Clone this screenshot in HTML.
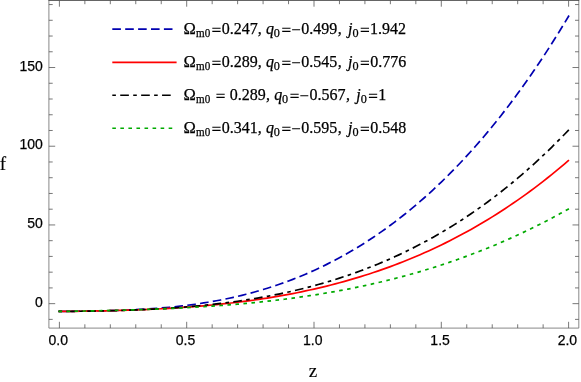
<!DOCTYPE html>
<html><head><meta charset="utf-8"><title>plot</title>
<style>
html,body{margin:0;padding:0;background:#fff;}
body{width:581px;height:382px;position:relative;overflow:hidden;font-family:"Liberation Sans",sans-serif;}
.t{position:absolute;font:14px/16px "Liberation Sans",sans-serif;color:#000;white-space:nowrap;height:16px;-webkit-text-stroke:0.25px #000;}
.ln,.ls,.li{position:absolute;font:16px/20px "Liberation Serif",serif;color:#000;white-space:pre;height:20px;-webkit-text-stroke:0.25px #000;}
.li{font-style:italic;}
.ls{font-size:12.2px;transform:scaleX(0.91);transform-origin:0 0;}
.ax{position:absolute;font-family:"Liberation Serif",serif;color:#000;white-space:nowrap;-webkit-text-stroke:0.15px #000;}
</style></head><body>
<svg width="581" height="382" viewBox="0 0 581 382" style="position:absolute;left:0;top:0">
<path d="M58.50,311.45 L59.40,311.45 L63.64,311.40 L67.89,311.35 L72.13,311.30 L76.37,311.25 L80.62,311.20 L84.86,311.14 L89.10,311.08 L93.35,311.01 L97.59,310.93 L101.83,310.84 L106.08,310.75 L110.32,310.64 L114.56,310.52 L118.81,310.38 L123.05,310.23 L127.29,310.07 L131.54,309.88 L135.78,309.68 L140.02,309.45 L144.27,309.21 L148.51,308.94 L152.75,308.65 L157.00,308.33 L161.24,307.99 L165.48,307.63 L169.73,307.23 L173.97,306.81 L178.21,306.35 L182.46,305.87 L186.70,305.35 L190.94,304.80 L195.19,304.22 L199.43,303.60 L203.67,302.95 L207.92,302.26 L212.16,301.53 L216.40,300.77 L220.65,299.96 L224.89,299.12 L229.13,298.23 L233.38,297.30 L237.62,296.33 L241.86,295.31 L246.11,294.25 L250.35,293.14 L254.59,291.98 L258.84,290.78 L263.08,289.53 L267.32,288.23 L271.57,286.88 L275.81,285.48 L280.05,284.03 L284.30,282.52 L288.54,280.96 L292.78,279.35 L297.03,277.68 L301.27,275.95 L305.51,274.17 L309.76,272.33 L314.00,270.43 L318.24,268.47 L322.49,266.45 L326.73,264.38 L330.97,262.23 L335.22,260.03 L339.46,257.76 L343.70,255.43 L347.95,253.03 L352.19,250.57 L356.43,248.04 L360.68,245.44 L364.92,242.77 L369.16,240.03 L373.41,237.23 L377.65,234.35 L381.89,231.40 L386.14,228.38 L390.38,225.28 L394.62,222.11 L398.87,218.86 L403.11,215.54 L407.35,212.14 L411.60,208.66 L415.84,205.10 L420.08,201.47 L424.33,197.75 L428.57,193.95 L432.81,190.07 L437.06,186.10 L441.30,182.05 L445.54,177.92 L449.79,173.69 L454.03,169.38 L458.27,164.99 L462.52,160.50 L466.76,155.92 L471.00,151.25 L475.25,146.49 L479.49,141.64 L483.73,136.69 L487.98,131.64 L492.22,126.50 L496.46,121.27 L500.71,115.93 L504.95,110.49 L509.19,104.95 L513.44,99.32 L517.68,93.57 L521.92,87.73 L526.17,81.77 L530.41,75.72 L534.65,69.55 L538.90,63.27 L543.14,56.89 L547.38,50.39 L551.63,43.78 L555.87,37.06 L560.11,30.22 L564.36,23.26 L568.60,16.19 L569.00,15.52" fill="none" stroke="#0000b0" stroke-width="1.7" stroke-dasharray="8.6 4.3"/>
<path d="M58.50,311.45 L59.40,311.45 L63.64,311.42 L67.89,311.38 L72.13,311.33 L76.37,311.29 L80.62,311.23 L84.86,311.18 L89.10,311.11 L93.35,311.04 L97.59,310.96 L101.83,310.88 L106.08,310.79 L110.32,310.69 L114.56,310.58 L118.81,310.47 L123.05,310.34 L127.29,310.21 L131.54,310.07 L135.78,309.91 L140.02,309.75 L144.27,309.58 L148.51,309.39 L152.75,309.20 L157.00,308.99 L161.24,308.77 L165.48,308.53 L169.73,308.29 L173.97,308.03 L178.21,307.75 L182.46,307.47 L186.70,307.16 L190.94,306.84 L195.19,306.51 L199.43,306.16 L203.67,305.80 L207.92,305.41 L212.16,305.01 L216.40,304.60 L220.65,304.16 L224.89,303.71 L229.13,303.23 L233.38,302.74 L237.62,302.23 L241.86,301.69 L246.11,301.14 L250.35,300.57 L254.59,299.97 L258.84,299.35 L263.08,298.71 L267.32,298.05 L271.57,297.36 L275.81,296.65 L280.05,295.91 L284.30,295.15 L288.54,294.36 L292.78,293.55 L297.03,292.71 L301.27,291.85 L305.51,290.95 L309.76,290.03 L314.00,289.09 L318.24,288.11 L322.49,287.10 L326.73,286.06 L330.97,285.00 L335.22,283.90 L339.46,282.77 L343.70,281.61 L347.95,280.42 L352.19,279.19 L356.43,277.93 L360.68,276.64 L364.92,275.31 L369.16,273.95 L373.41,272.56 L377.65,271.12 L381.89,269.65 L386.14,268.15 L390.38,266.60 L394.62,265.02 L398.87,263.40 L403.11,261.74 L407.35,260.04 L411.60,258.30 L415.84,256.52 L420.08,254.70 L424.33,252.84 L428.57,250.93 L432.81,248.98 L437.06,246.99 L441.30,244.95 L445.54,242.87 L449.79,240.75 L454.03,238.58 L458.27,236.36 L462.52,234.09 L466.76,231.78 L471.00,229.42 L475.25,227.01 L479.49,224.55 L483.73,222.04 L487.98,219.48 L492.22,216.87 L496.46,214.21 L500.71,211.50 L504.95,208.73 L509.19,205.91 L513.44,203.04 L517.68,200.11 L521.92,197.12 L526.17,194.08 L530.41,190.99 L534.65,187.83 L538.90,184.62 L543.14,181.35 L547.38,178.02 L551.63,174.63 L555.87,171.19 L560.11,167.68 L564.36,164.10 L568.60,160.47 L569.00,160.13" fill="none" stroke="#ff0000" stroke-width="1.7"/>
<path d="M58.50,311.45 L59.40,311.45 L63.64,311.42 L67.89,311.39 L72.13,311.35 L76.37,311.30 L80.62,311.25 L84.86,311.20 L89.10,311.14 L93.35,311.07 L97.59,310.99 L101.83,310.91 L106.08,310.82 L110.32,310.72 L114.56,310.61 L118.81,310.49 L123.05,310.36 L127.29,310.23 L131.54,310.08 L135.78,309.91 L140.02,309.74 L144.27,309.55 L148.51,309.35 L152.75,309.14 L157.00,308.91 L161.24,308.67 L165.48,308.41 L169.73,308.14 L173.97,307.85 L178.21,307.55 L182.46,307.22 L186.70,306.88 L190.94,306.52 L195.19,306.14 L199.43,305.75 L203.67,305.33 L207.92,304.89 L212.16,304.44 L216.40,303.96 L220.65,303.45 L224.89,302.93 L229.13,302.38 L233.38,301.81 L237.62,301.22 L241.86,300.59 L246.11,299.95 L250.35,299.28 L254.59,298.58 L258.84,297.85 L263.08,297.10 L267.32,296.32 L271.57,295.51 L275.81,294.67 L280.05,293.80 L284.30,292.90 L288.54,291.97 L292.78,291.01 L297.03,290.02 L301.27,288.99 L305.51,287.93 L309.76,286.83 L314.00,285.70 L318.24,284.54 L322.49,283.34 L326.73,282.10 L330.97,280.82 L335.22,279.51 L339.46,278.16 L343.70,276.77 L347.95,275.34 L352.19,273.87 L356.43,272.36 L360.68,270.81 L364.92,269.21 L369.16,267.58 L373.41,265.90 L377.65,264.17 L381.89,262.40 L386.14,260.59 L390.38,258.73 L394.62,256.82 L398.87,254.87 L403.11,252.86 L407.35,250.81 L411.60,248.71 L415.84,246.56 L420.08,244.36 L424.33,242.11 L428.57,239.80 L432.81,237.45 L437.06,235.04 L441.30,232.57 L445.54,230.05 L449.79,227.48 L454.03,224.85 L458.27,222.16 L462.52,219.42 L466.76,216.62 L471.00,213.76 L475.25,210.83 L479.49,207.85 L483.73,204.81 L487.98,201.71 L492.22,198.54 L496.46,195.31 L500.71,192.02 L504.95,188.66 L509.19,185.24 L513.44,181.75 L517.68,178.20 L521.92,174.58 L526.17,170.88 L530.41,167.13 L534.65,163.30 L538.90,159.40 L543.14,155.43 L547.38,151.38 L551.63,147.27 L555.87,143.08 L560.11,138.82 L564.36,134.48 L568.60,130.07 L569.00,129.65" fill="none" stroke="#000000" stroke-width="1.7" stroke-dasharray="3.6 4.33 8.65 4.33"/>
<path d="M58.50,311.45 L59.40,311.45 L63.64,311.38 L67.89,311.31 L72.13,311.23 L76.37,311.16 L80.62,311.08 L84.86,311.00 L89.10,310.92 L93.35,310.84 L97.59,310.75 L101.83,310.66 L106.08,310.56 L110.32,310.47 L114.56,310.36 L118.81,310.26 L123.05,310.14 L127.29,310.03 L131.54,309.90 L135.78,309.78 L140.02,309.64 L144.27,309.50 L148.51,309.35 L152.75,309.20 L157.00,309.04 L161.24,308.87 L165.48,308.69 L169.73,308.50 L173.97,308.31 L178.21,308.11 L182.46,307.89 L186.70,307.67 L190.94,307.44 L195.19,307.20 L199.43,306.94 L203.67,306.68 L207.92,306.41 L212.16,306.12 L216.40,305.82 L220.65,305.51 L224.89,305.19 L229.13,304.86 L233.38,304.51 L237.62,304.15 L241.86,303.78 L246.11,303.39 L250.35,302.98 L254.59,302.57 L258.84,302.14 L263.08,301.69 L267.32,301.23 L271.57,300.75 L275.81,300.25 L280.05,299.74 L284.30,299.22 L288.54,298.67 L292.78,298.11 L297.03,297.53 L301.27,296.93 L305.51,296.31 L309.76,295.68 L314.00,295.03 L318.24,294.35 L322.49,293.66 L326.73,292.95 L330.97,292.22 L335.22,291.46 L339.46,290.69 L343.70,289.89 L347.95,289.08 L352.19,288.24 L356.43,287.38 L360.68,286.49 L364.92,285.59 L369.16,284.66 L373.41,283.70 L377.65,282.73 L381.89,281.73 L386.14,280.70 L390.38,279.65 L394.62,278.58 L398.87,277.48 L403.11,276.35 L407.35,275.20 L411.60,274.02 L415.84,272.81 L420.08,271.58 L424.33,270.32 L428.57,269.03 L432.81,267.72 L437.06,266.37 L441.30,265.00 L445.54,263.60 L449.79,262.17 L454.03,260.71 L458.27,259.22 L462.52,257.70 L466.76,256.15 L471.00,254.57 L475.25,252.95 L479.49,251.31 L483.73,249.63 L487.98,247.92 L492.22,246.18 L496.46,244.41 L500.71,242.60 L504.95,240.76 L509.19,238.88 L513.44,236.97 L517.68,235.03 L521.92,233.05 L526.17,231.04 L530.41,228.99 L534.65,226.90 L538.90,224.78 L543.14,222.62 L547.38,220.43 L551.63,218.20 L555.87,215.93 L560.11,213.62 L564.36,211.27 L568.60,208.89 L569.00,208.66" fill="none" stroke="#00aa00" stroke-width="1.7" stroke-dasharray="3.6 4.45"/>
<path d="M48.9,0V328.1H578.8V0" fill="none" stroke="#6a6a6a" stroke-width="0.8"/>
<path d="M48.5,0.45H579.1999999999999" fill="none" stroke="#484848" stroke-width="0.9"/>
<path d="M59.40,328.1v-6.3 M59.40,0.4v6.3 M84.86,328.1v-3.8 M84.86,0.4v3.8 M110.32,328.1v-3.8 M110.32,0.4v3.8 M135.78,328.1v-3.8 M135.78,0.4v3.8 M161.24,328.1v-3.8 M161.24,0.4v3.8 M186.70,328.1v-6.3 M186.70,0.4v6.3 M212.16,328.1v-3.8 M212.16,0.4v3.8 M237.62,328.1v-3.8 M237.62,0.4v3.8 M263.08,328.1v-3.8 M263.08,0.4v3.8 M288.54,328.1v-3.8 M288.54,0.4v3.8 M314.00,328.1v-6.3 M314.00,0.4v6.3 M339.46,328.1v-3.8 M339.46,0.4v3.8 M364.92,328.1v-3.8 M364.92,0.4v3.8 M390.38,328.1v-3.8 M390.38,0.4v3.8 M415.84,328.1v-3.8 M415.84,0.4v3.8 M441.30,328.1v-6.3 M441.30,0.4v6.3 M466.76,328.1v-3.8 M466.76,0.4v3.8 M492.22,328.1v-3.8 M492.22,0.4v3.8 M517.68,328.1v-3.8 M517.68,0.4v3.8 M543.14,328.1v-3.8 M543.14,0.4v3.8 M568.60,328.1v-6.3 M568.60,0.4v6.3 M48.9,319.39h3.8 M578.8,319.39h-3.8 M48.9,303.65h6.3 M578.8,303.65h-6.3 M48.9,287.91h3.8 M578.8,287.91h-3.8 M48.9,272.17h3.8 M578.8,272.17h-3.8 M48.9,256.42h3.8 M578.8,256.42h-3.8 M48.9,240.68h3.8 M578.8,240.68h-3.8 M48.9,224.94h6.3 M578.8,224.94h-6.3 M48.9,209.20h3.8 M578.8,209.20h-3.8 M48.9,193.46h3.8 M578.8,193.46h-3.8 M48.9,177.71h3.8 M578.8,177.71h-3.8 M48.9,161.97h3.8 M578.8,161.97h-3.8 M48.9,146.23h6.3 M578.8,146.23h-6.3 M48.9,130.49h3.8 M578.8,130.49h-3.8 M48.9,114.75h3.8 M578.8,114.75h-3.8 M48.9,99.00h3.8 M578.8,99.00h-3.8 M48.9,83.26h3.8 M578.8,83.26h-3.8 M48.9,67.52h6.3 M578.8,67.52h-6.3 M48.9,51.78h3.8 M578.8,51.78h-3.8 M48.9,36.04h3.8 M578.8,36.04h-3.8 M48.9,20.29h3.8 M578.8,20.29h-3.8 M48.9,4.55h3.8 M578.8,4.55h-3.8" fill="none" stroke="#555" stroke-width="0.8"/>
<path d="M112.3,29.15H176.6" fill="none" stroke="#0000b0" stroke-width="1.7" stroke-dasharray="8.6 4.3"/>
<path d="M112.3,62.3H176.6" fill="none" stroke="#ff0000" stroke-width="1.7"/>
<path d="M112.3,95.25H174.8" fill="none" stroke="#000000" stroke-width="1.7" stroke-dasharray="3.6 4.33 8.65 4.33"/>
<path d="M112.3,128.25H176.6" fill="none" stroke="#00aa00" stroke-width="1.7" stroke-dasharray="3.6 4.45"/>
<path d="M212.30,28.30h8.3 M212.30,31.40h8.3 M282.20,28.30h8.3 M282.20,31.40h8.3 M292.10,29.80h8.0 M360.70,28.30h8.3 M360.70,31.40h8.3 M212.30,61.30h8.3 M212.30,64.40h8.3 M282.20,61.30h8.3 M282.20,64.40h8.3 M292.10,62.80h8.0 M360.70,61.30h8.3 M360.70,64.40h8.3 M216.40,94.30h8.3 M216.40,97.40h8.3 M290.40,94.30h8.3 M290.40,97.40h8.3 M300.30,95.80h8.0 M368.90,94.30h8.3 M368.90,97.40h8.3 M212.30,127.30h8.3 M212.30,130.40h8.3 M282.20,127.30h8.3 M282.20,130.40h8.3 M292.10,128.80h8.0 M360.70,127.30h8.3 M360.70,130.40h8.3" fill="none" stroke="#000" stroke-width="1.1"/>
</svg>
<div id="txt" style="position:absolute;left:0;top:0;width:581px;height:382px;will-change:transform;">
<div class="t" style="left:28.199999999999996px;width:60px;text-align:center;top:332.1px">0.0</div>
<div class="t" style="left:155.5px;width:60px;text-align:center;top:332.1px">0.5</div>
<div class="t" style="left:282.8px;width:60px;text-align:center;top:332.1px">1.0</div>
<div class="t" style="left:410.09999999999997px;width:60px;text-align:center;top:332.1px">1.5</div>
<div class="t" style="left:537.4px;width:60px;text-align:center;top:332.1px">2.0</div>
<div class="t" style="left:-17.200000000000003px;width:60px;text-align:right;top:293.75px">0</div>
<div class="t" style="left:-17.200000000000003px;width:60px;text-align:right;top:215.03999999999996px">50</div>
<div class="t" style="left:-17.200000000000003px;width:60px;text-align:right;top:136.32999999999996px">100</div>
<div class="t" style="left:-17.200000000000003px;width:60px;text-align:right;top:57.619999999999976px">150</div>
<span class="ln" style="left:183.50px;top:18.60px;font-size:16.6px;">Ω</span>
<span class="ls" style="left:196.38px;top:23.15px;">m0</span>
<span class="ln" style="left:221.67px;top:18.60px;">0.247</span>
<span class="ln" style="left:257.74px;top:18.60px;">,</span>
<span class="li" style="left:266.00px;top:18.60px;">q</span>
<span class="ls" style="left:273.77px;top:23.15px;transform:none;">0</span>
<span class="ln" style="left:301.37px;top:18.60px;">0.499</span>
<span class="ln" style="left:337.74px;top:18.60px;">,</span>
<span class="li" style="left:347.93px;top:18.60px;">j</span>
<span class="ls" style="left:352.47px;top:23.15px;transform:none;">0</span>
<span class="ln" style="left:370.09px;top:18.60px;">1.942</span>
<span class="ln" style="left:183.50px;top:51.60px;font-size:16.6px;">Ω</span>
<span class="ls" style="left:196.38px;top:56.15px;">m0</span>
<span class="ln" style="left:221.67px;top:51.60px;">0.289</span>
<span class="ln" style="left:257.74px;top:51.60px;">,</span>
<span class="li" style="left:266.00px;top:51.60px;">q</span>
<span class="ls" style="left:273.77px;top:56.15px;transform:none;">0</span>
<span class="ln" style="left:301.37px;top:51.60px;">0.545</span>
<span class="ln" style="left:337.74px;top:51.60px;">,</span>
<span class="li" style="left:347.93px;top:51.60px;">j</span>
<span class="ls" style="left:352.47px;top:56.15px;transform:none;">0</span>
<span class="ln" style="left:370.17px;top:51.60px;">0.776</span>
<span class="ln" style="left:183.50px;top:84.60px;font-size:16.6px;">Ω</span>
<span class="ls" style="left:196.38px;top:89.15px;">m0</span>
<span class="ln" style="left:229.87px;top:84.60px;">0.289</span>
<span class="ln" style="left:265.94px;top:84.60px;">,</span>
<span class="li" style="left:274.20px;top:84.60px;">q</span>
<span class="ls" style="left:281.97px;top:89.15px;transform:none;">0</span>
<span class="ln" style="left:309.57px;top:84.60px;">0.567</span>
<span class="ln" style="left:345.94px;top:84.60px;">,</span>
<span class="li" style="left:356.13px;top:84.60px;">j</span>
<span class="ls" style="left:360.67px;top:89.15px;transform:none;">0</span>
<span class="ln" style="left:378.29px;top:84.60px;">1</span>
<span class="ln" style="left:183.50px;top:117.60px;font-size:16.6px;">Ω</span>
<span class="ls" style="left:196.38px;top:122.15px;">m0</span>
<span class="ln" style="left:221.67px;top:117.60px;">0.341</span>
<span class="ln" style="left:257.74px;top:117.60px;">,</span>
<span class="li" style="left:266.00px;top:117.60px;">q</span>
<span class="ls" style="left:273.77px;top:122.15px;transform:none;">0</span>
<span class="ln" style="left:301.37px;top:117.60px;">0.595</span>
<span class="ln" style="left:337.74px;top:117.60px;">,</span>
<span class="li" style="left:347.93px;top:117.60px;">j</span>
<span class="ls" style="left:352.47px;top:122.15px;transform:none;">0</span>
<span class="ln" style="left:370.17px;top:117.60px;">0.548</span>
<div class="ax" style="left:-0.3px;top:152.8px;font-size:19px;line-height:22px;">f</div>
<div class="ax" style="left:283px;width:60px;text-align:center;top:359.5px;font-size:19px;line-height:22px;">z</div>
</div>
</body></html>
